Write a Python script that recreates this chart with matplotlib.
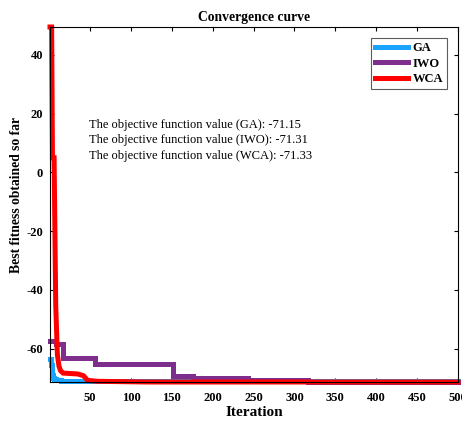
import matplotlib
matplotlib.use("Agg")
import matplotlib.pyplot as plt

# Data (step breakpoints)
ga_iter = [1, 2, 3, 4, 5, 6, 8, 10, 12, 15, 20, 30, 40, 60, 80, 100, 500]
ga_val = [-63.5, -65.5, -67.5, -69.0, -69.8, -70.2, -70.5, -70.7, -70.8, -70.9,
          -71.0, -71.05, -71.1, -71.12, -71.14, -71.15, -71.15]

iwo_iter = [1, 8, 17, 56, 151, 176, 243, 316, 500]
iwo_val = [-57.5, -58.3, -63.0, -65.2, -69.3, -69.9, -70.5, -71.31, -71.31]

wca_iter = [1, 3, 4, 6, 8, 10, 12, 14, 17, 35, 42, 47, 60, 120, 500]
wca_val = [49.5, 49.5, 5, 5, -45, -62, -66, -67.5, -68.3, -68.6, -69.2, -70.8,
           -71.1, -71.33, -71.33]

series_names = ["GA", "IWO", "WCA"]
final_values = ["-71.15", "-71.31", "-71.33"]
xticks = [50, 100, 150, 200, 250, 300, 350, 400, 450, 500]
yticks = [-60, -40, -20, 0, 20, 40]

plt.rcParams['font.family'] = ['Liberation Serif', 'DejaVu Serif']
plt.rcParams['axes.unicode_minus'] = False

fig = plt.figure(figsize=(4.62, 4.21), dpi=100)
ax = fig.add_axes([50/462, 39/421, 408/462, 355/421])

lw = 3.6
ax.plot(ga_iter, ga_val, color='#1aa3ff', lw=lw, drawstyle='steps-post',
        label=series_names[0], clip_on=False, solid_joinstyle='miter')
ax.plot(iwo_iter, iwo_val, color='#7e2f8e', lw=lw, drawstyle='steps-post',
        label=series_names[1], clip_on=False, solid_joinstyle='miter')
ax.plot(wca_iter, wca_val, color='#ff0000', lw=lw,
        label=series_names[2], clip_on=False, solid_joinstyle='miter')

ax.set_xlim(1, 500)
ax.set_ylim(-71.33, 49.5)
ax.set_xticks(xticks)
ax.set_yticks(yticks)
ax.tick_params(direction='in', top=True, right=True, length=3, width=0.8,
               labelsize=9)
ax.tick_params(axis='x', pad=7)
ax.tick_params(axis='y', pad=5)
for lab in ax.get_xticklabels() + ax.get_yticklabels():
    lab.set_fontweight('bold')
for s in ax.spines.values():
    s.set_linewidth(0.8)

ax.set_title("Convergence curve", fontsize=9.8, fontweight='bold', pad=4)
ax.set_xlabel("Iteration", fontsize=11, fontweight='bold', labelpad=2)
ax.set_ylabel("Best fitness obtained so far", fontsize=9.8, fontweight='bold')
ax.yaxis.set_label_coords(-0.066, 0.527)

for i, (n, v) in enumerate(zip(series_names, final_values)):
    ax.text(49, 16.3 - 5.4 * i, f"The objective function value ({n}): {v}",
            fontsize=9, va='center', ha='left')

leg = ax.legend(loc='upper right', prop={'weight': 'bold', 'size': 9},
                frameon=True, fancybox=False, edgecolor='#333333',
                borderpad=0.3, handlelength=2.6, handletextpad=0.4,
                labelspacing=0.3, borderaxespad=0.9)
leg.get_frame().set_linewidth(0.8)

fig.savefig("out.png", dpi=100)
